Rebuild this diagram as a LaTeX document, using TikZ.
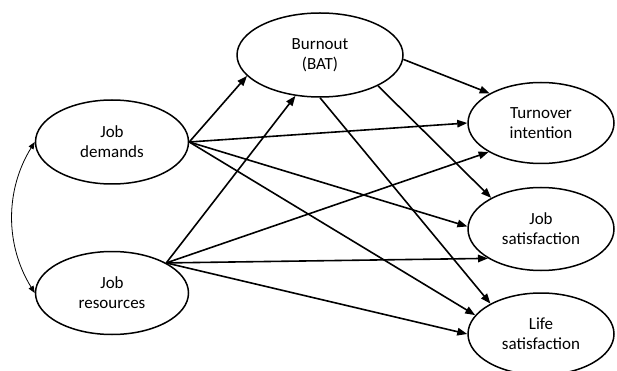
\documentclass[tikz,border=0pt]{standalone}
\usepackage{fontspec}
\setmainfont{Carlito}
\usetikzlibrary{arrows.meta,shapes.geometric}
\begin{document}
\begin{tikzpicture}[x=1pt,y=-1pt,
  latent/.style={ellipse,draw,line width=1.5pt,align=center,inner sep=0pt,
    font=\fontsize{17}{20}\selectfont},
  pathar/.style={line width=1.6pt,-{Triangle[length=10pt,width=7.5pt]}},
  covar/.style={line width=0.8pt,{Triangle[length=7pt,width=5.5pt]}-{Triangle[length=7pt,width=5.5pt]}}]
\useasboundingbox (0,0) rectangle (617,371);
\node[latent,minimum width=153pt,minimum height=84pt] (jd) at (112,142) {Job\\demands};
\node[latent,minimum width=153pt,minimum height=83pt] (jr) at (112,293) {Job\\resources};
\node[latent,minimum width=166pt,minimum height=84pt] (bo) at (320,55) {Burnout\\(BAT)};
\node[latent,minimum width=146pt,minimum height=81pt] (to) at (541,123) {Turnover\\intention};
\node[latent,minimum width=146pt,minimum height=83pt] (js) at (541,229) {Job\\satisfaction};
\node[latent,minimum width=146pt,minimum height=82pt] (ls) at (541,334) {Life\\satisfaction};
% job demands
\draw[pathar] (jd.east) -- (bo.196);
\draw[pathar] (jd.east) -- (to.180);
\draw[pathar] (jd.east) -- (js.178);
\draw[pathar] (jd.east) -- (ls.164);
% job resources
\draw[pathar] (jr.29) -- (bo.239);
\draw[pathar] (jr.29) -- (to.209);
\draw[pathar] (jr.29) -- (js.209);
\draw[pathar] (jr.29) -- (ls.180);
% burnout
\draw[pathar] (bo.-3) -- (to.150);
\draw[pathar] (bo.-28) -- (js.148);
\draw[pathar] (bo.south) -- (ls.149);
% covariance
\draw[covar] (jd.west) .. controls (5,190) and (5,245) .. (jr.west);
\end{tikzpicture}
\end{document}
